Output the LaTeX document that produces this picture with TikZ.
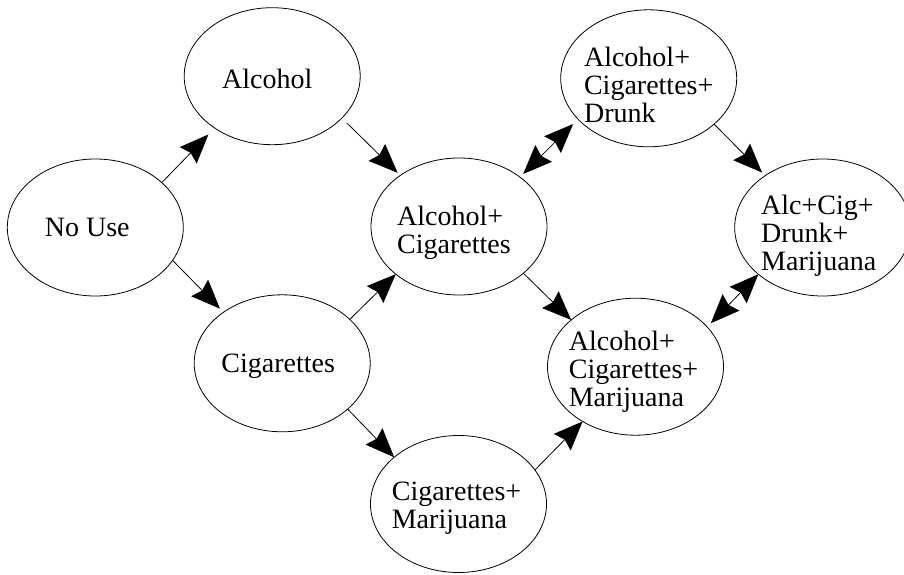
\documentclass[tikz,border=0pt]{standalone}
\usepackage{fontspec}
\setmainfont{Liberation Serif}
\usetikzlibrary{arrows.meta,shapes.geometric}
\begin{document}
\begin{tikzpicture}[x=1pt,y=1pt,
  state/.style={draw, ellipse, line width=0.8pt, minimum width=176pt, minimum height=137pt,
    inner sep=0pt, outer sep=0pt},
  txt/.style={inner sep=0pt, align=left, font=\fontsize{28}{28}\selectfont},
  tip/.tip={Stealth[length=29pt,width=23.5pt,inset=3.5pt]},
  arr/.style={line width=0.8pt, -{tip}},
  darr/.style={line width=0.8pt, {tip}-{tip}}]
\useasboundingbox (0,0) rectangle (904,-575);
\node[state] (nouse) at (95.3,-227.5) {};
\node[state] (alc)   at (272.2,-76.2) {};
\node[state] (cig)   at (282.2,-363.3) {};
\node[state] (ac)    at (459,-226.5) {};
\node[state] (cm)    at (458.5,-504) {};
\node[state] (acd)   at (648.7,-78.3) {};
\node[state] (acm)   at (635.5,-366.7) {};
\node[state] (acdm)  at (822.7,-227.5) {};
\node[txt] (nouse-t) at ([shift={(-8,0)}]nouse.center) {No Use};
\node[txt] (alc-t)   at ([shift={(-5,-3)}]alc.center) {Alcohol};
\node[txt] (cig-t)   at ([shift={(-4,-3)}]cig.center) {Cigarettes};
\node[txt] (ac-t)    at ([shift={(-5,-6)}]ac.center) {Alcohol+\\Cigarettes};
\node[txt] (cm-t)    at ([shift={(-2,-4)}]cm.center) {Cigarettes+\\Marijuana};
\node[txt] (acd-t)   at ([shift={(0,-7)}]acd.center) {Alcohol+\\Cigarettes+\\Drunk};
\node[txt] (acm-t)   at ([shift={(-2,-5)}]acm.center) {Alcohol+\\Cigarettes+\\Marijuana};
\node[txt] (acdm-t)  at ([shift={(-4,-8)}]acdm.center) {Alc+Cig+\\Drunk+\\Marijuana};
\draw[arr, shorten >=9pt] (nouse.34.5) -- (alc.222.4);
\draw[arr, shorten >=5pt] (nouse.-23.2) -- (cig.139.1);
\draw[arr, shorten <=7pt, shorten >=3.8pt] (alc.-31.2) -- (ac.139.7);
\draw[arr] (cig.33.6) -- (ac.217.9);
\draw[arr] (cig.-35.9) -- (cm.144.3);
\draw[darr, shorten <=4.5pt, shorten >=7pt] (ac.39.8) -- (acd.210.9);
\draw[arr, shorten >=4.4pt] (acd.-35.4) -- (acdm.138.4);
\draw[arr] (ac.-36.6) -- (acm.144.7);
\draw[arr] (cm.24.3) -- (acm.226.7);
\draw[darr, shorten <=5.2pt] (acm.29.5) -- (acdm.216.3);
\end{tikzpicture}
\end{document}
